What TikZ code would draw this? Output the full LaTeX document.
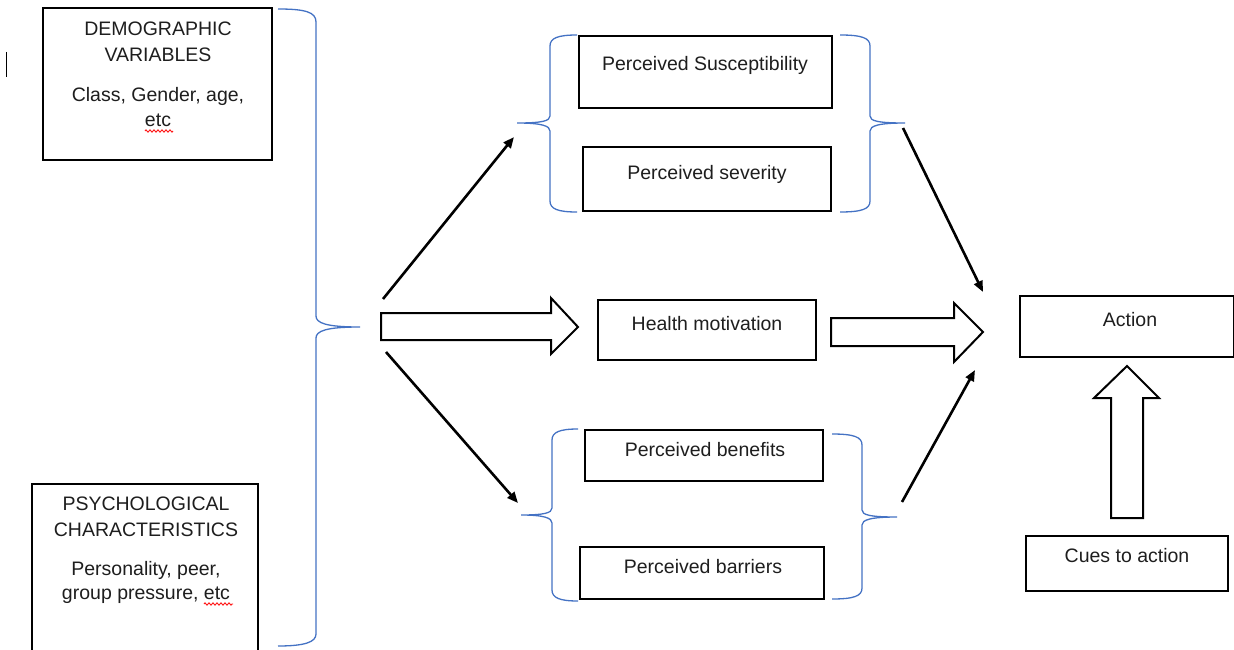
\documentclass[tikz,border=0pt]{standalone}
\usepackage{fontspec}
\setmainfont{Liberation Sans}
\usetikzlibrary{arrows.meta,decorations.pathmorphing}
\definecolor{braceblue}{RGB}{68,114,196}
\definecolor{txtgray}{RGB}{30,30,30}
\begin{document}
\begin{tikzpicture}[x=1pt,y=-1pt,
  box/.style={draw=black, line width=2pt, rectangle, inner sep=0pt},
  txt/.style={anchor=base, inner sep=0pt, text=txtgray, font=\fontsize{19.5}{23}\selectfont},
  brace/.style={draw=braceblue, line width=1.3pt},
  thinarrow/.style={draw=black, line width=2.6pt, -{Triangle[length=11pt,width=9pt]}},
  blockarrow/.style={draw=black, line width=2pt, fill=white, line join=miter},
  spell/.style={draw=red, line width=0.8pt, decorate, decoration={zigzag, amplitude=1.2pt, segment length=4pt}}]
\clip (0,0) rectangle (1234,650);
\fill[white] (0,0) rectangle (1234,650);

% text cursor
\draw[line width=1pt] (6,52) -- (6,77);

% boxes
\node[box, minimum width=229pt, minimum height=152pt] (demo) at (157.5,84) {};
\node[box, minimum width=226pt, minimum height=180pt] (psych) at (145,574) {};
\node[box, minimum width=253pt, minimum height=72pt] (sus) at (705.5,72) {};
\node[box, minimum width=248pt, minimum height=64pt] (sev) at (707,179) {};
\node[box, minimum width=218pt, minimum height=60pt] (hm) at (707,330) {};
\node[box, minimum width=238pt, minimum height=51pt] (ben) at (704,455.5) {};
\node[box, minimum width=244pt, minimum height=52pt] (bar) at (702,573) {};
\node[box, minimum width=214pt, minimum height=61pt] (act) at (1127,326.5) {};
\node[box, minimum width=202pt, minimum height=55pt] (cues) at (1127,563.5) {};

% texts
\node[txt] (t1) at (158,36) {DEMOGRAPHIC};
\node[txt] (t2) at (158,62) {VARIABLES};
\node[txt] (t3) at (158,102) {Class, Gender, age,};
\node[txt] (t4) at (158,127) {etc};
\node[txt] (t5) at (146,510) {PSYCHOLOGICAL};
\node[txt] (t6) at (146,536) {CHARACTERISTICS};
\node[txt] (t7) at (146,575) {Personality, peer,};
\node[txt] (t8) at (146,599) {group pressure, etc};
\node[txt] (t9) at (705,71) {Perceived Susceptibility};
\node[txt] (t10) at (707,179) {Perceived severity};
\node[txt] (t11) at (707,330) {Health motivation};
\node[txt] (t12) at (705,456) {Perceived benefits};
\node[txt] (t13) at (703,573) {Perceived barriers};
\node[txt] (t14) at (1130,326) {Action};
\node[txt] (t15) at (1127,562) {Cues to action};

% spell-check underlines
\draw[spell] (145,131) -- (173,131);
\draw[spell] (204,604) -- (233,604);

% big right brace
\draw[brace] (278,9) .. controls (305,9) and (316,12) .. (316,22) -- (316,316)
  .. controls (316,323) and (326,327) .. (360,327)
  .. controls (326,327) and (316,331) .. (316,338) -- (316,634)
  .. controls (316,642) and (305,646) .. (278,646);
% top-left brace
\draw[brace] (577,35) .. controls (558,35) and (550,38) .. (550,46) -- (550,116)
  .. controls (550,121) and (542,123) .. (517,123)
  .. controls (542,123) and (550,126) .. (550,131) -- (550,201)
  .. controls (550,209) and (558,212) .. (577,212);
% top-right brace
\draw[brace] (840,35) .. controls (862,35) and (870,38) .. (870,46) -- (870,116)
  .. controls (870,121) and (878,123) .. (905,123)
  .. controls (878,123) and (870,126) .. (870,131) -- (870,201)
  .. controls (870,209) and (862,212) .. (840,212);
% bottom-left brace
\draw[brace] (578,429) .. controls (560,429) and (552,432) .. (552,440) -- (552,508)
  .. controls (552,513) and (544,515) .. (521,515)
  .. controls (544,515) and (552,518) .. (552,523) -- (552,590)
  .. controls (552,598) and (560,601) .. (578,601);
% bottom-right brace
\draw[brace] (832,434) .. controls (854,434) and (862,437) .. (862,445) -- (862,510)
  .. controls (862,515) and (870,517) .. (897,517)
  .. controls (870,517) and (862,520) .. (862,525) -- (862,588)
  .. controls (862,596) and (854,599) .. (832,599);

% connector end points
\coordinate (a1s) at (383,299);
\coordinate (a1e) at (514,137);
\coordinate (a2s) at (386,352);
\coordinate (a2e) at (518,503);
\coordinate (a3s) at (903,128);
\coordinate (a3e) at (983,292);
\coordinate (a4s) at (902,502);
\coordinate (a4e) at (975,370);

\draw[thinarrow] (a1s) -- (a1e);
\draw[thinarrow] (a2s) -- (a2e);
\draw[thinarrow] (a3s) -- (a3e);
\draw[thinarrow] (a4s) -- (a4e);

% block arrows
\draw[blockarrow] (381,313) -- (551,313) -- (551,298) -- (578,327) -- (551,354) -- (551,340) -- (381,340) -- cycle;
\draw[blockarrow] (831,318) -- (954,318) -- (954,303) -- (983,332) -- (954,362) -- (954,346) -- (831,346) -- cycle;
\draw[blockarrow] (1111,518) -- (1111,398) -- (1094,398) -- (1127,366) -- (1159,398) -- (1143,398) -- (1143,518) -- cycle;
\end{tikzpicture}
\end{document}
